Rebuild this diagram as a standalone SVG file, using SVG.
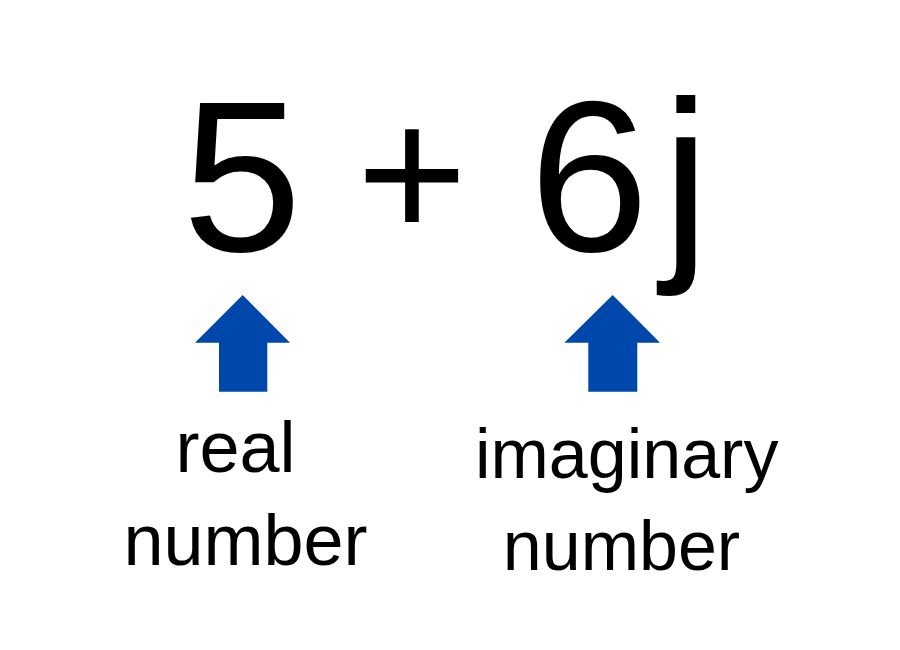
<svg xmlns="http://www.w3.org/2000/svg" width="900" height="650" viewBox="0 0 900 650">
<style>
.t{font-family:"Liberation Sans",Arial,sans-serif;fill:#000}
.arrow{fill:#0047AB}
</style>
<rect width="900" height="650" fill="#fff"/>
<g id="expression">
<text class="t" font-size="215" x="242" y="251" text-anchor="middle">5</text>
<text class="t" font-size="190" x="412" y="239" text-anchor="middle">+</text>
<text class="t" font-size="215" x="589" y="251" text-anchor="middle">6</text>
<text class="t" font-size="215" x="662" y="251">j</text>
</g>
<g id="connectors">
<polygon class="arrow" points="242.7,295 290,342.7 267.3,342.7 267.3,391.7 219,391.7 219,342.7 195,342.7"/>
<polygon class="arrow" points="612.7,295 660,342.7 637.3,342.7 637.3,391.7 588.3,391.7 588.3,342.7 564.3,342.7"/>
</g>
<g id="real">
<text class="t" font-size="72" x="235.5" y="472" text-anchor="middle">real</text>
<text class="t" font-size="72" x="245.5" y="565" text-anchor="middle">number</text>
</g>
<g id="imaginary">
<text class="t" font-size="70" x="626.7" y="478" text-anchor="middle">imaginary</text>
<text class="t" font-size="70" x="621.5" y="570" text-anchor="middle">number</text>
</g>
</svg>
